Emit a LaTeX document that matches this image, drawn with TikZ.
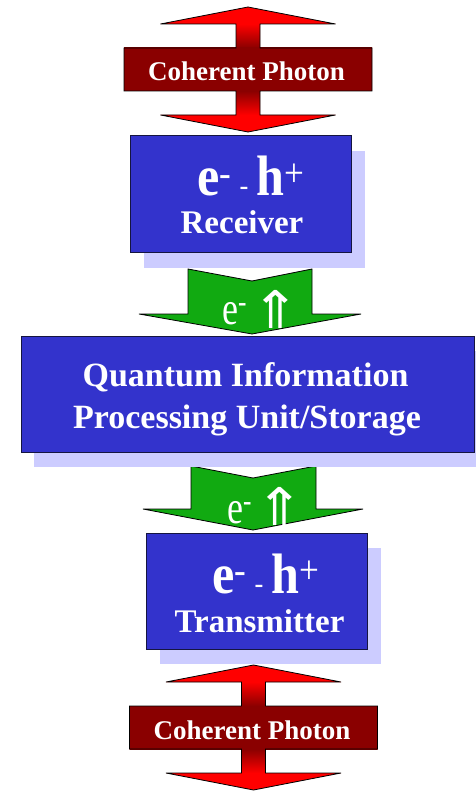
\documentclass[tikz,border=0pt]{standalone}
\usepackage{fontspec}
\setmainfont{Liberation Serif}
\newfontfamily\arrowfont{DejaVu Sans}
\usepackage{graphicx}
\usetikzlibrary{shadows}

\definecolor{boxblue}{HTML}{3333CC}
\definecolor{boxedge}{HTML}{151540}
\definecolor{shadowblue}{HTML}{CCCCFF}
\definecolor{arrowgreen}{HTML}{11AA11}
\definecolor{photonred}{HTML}{FF0000}
\definecolor{darkred}{HTML}{8A0000}
\definecolor{deepred}{HTML}{5E0000}

\newcommand\ehpair{\fontsize{57}{57}\selectfont\scalebox{0.88}[1]{e\textsuperscript{\mdseries-}\hspace{9pt}{\mdseries\fontsize{30}{30}\selectfont-}\hspace{9pt}h\textsuperscript{\mdseries+}}}
\newcommand\uparrowsign{{\fontsize{40}{40}\arrowfont\scalebox{1.45}[1.3]{⇑}}}

\begin{document}
\begin{tikzpicture}[x=1pt,y=-1pt,
  bluebox/.style={draw=boxedge, line width=1pt, fill=boxblue, inner sep=0pt, outer sep=0pt,
    drop shadow={shadow xshift=14pt, shadow yshift=-15pt, fill=shadowblue, opacity=1, draw=none}},
  photonbox/.style={inner sep=0pt, outer sep=0pt, top color=darkred, middle color=deepred, bottom color=darkred},
  outline/.style={draw=black, line width=0.8pt, line join=miter},
  greenarrow/.style={fill=arrowgreen, draw=black, line width=0.8pt},
  whitebold/.style={text=white, inner sep=0pt, font=\bfseries},
  greentext/.style={text=white, inner sep=0pt},
  photon arrow/.pic={
    % arrow heads
    \fill[photonred] (0,0) -- (87.5,17) -- (-87.5,17) -- cycle;
    \fill[photonred] (0,125) -- (87.5,108) -- (-87.5,108) -- cycle;
    % shafts fading into the label bar
    \shade[top color=photonred, bottom color=darkred] (-12,17) rectangle (12,41);
    \shade[top color=darkred, bottom color=photonred] (-12,84) rectangle (12,108);
    % label bar
    \node[photonbox, minimum width=248pt, minimum height=43pt] (-bar) at (0,62.5) {};
    \draw[outline] (0,0) -- (87.5,17) -- (12,17) -- (12,41) -- (124,41) -- (124,84)
      -- (12,84) -- (12,108) -- (87.5,108) -- (0,125) -- (-87.5,108) -- (-12,108)
      -- (-12,84) -- (-124,84) -- (-124,41) -- (-12,41) -- (-12,17) -- (-87.5,17) -- cycle;
    \node[whitebold, font=\bfseries\fontsize{27}{27}\selectfont, anchor=base] (-label) at (-1.5,74) {Coherent Photon};
  }]
\useasboundingbox (0,0) rectangle (475,791);

% photon arrows
\pic (inphoton) at (248,7) {photon arrow};

% electron transfer arrows
\draw[greenarrow] (188,269) -- (252,281) -- (312,269) -- (312,314) -- (361,314)
  -- (252,334) -- (139,314) -- (188,314) -- cycle;
\draw[greenarrow] (191,466) -- (253,478) -- (316,466) -- (316,509) -- (363,509)
  -- (253,530) -- (143,509) -- (191,509) -- cycle;

% blocks
\node[bluebox, minimum width=221pt, minimum height=117pt] (recv) at (240.5,194.5) {};
\node[bluebox, minimum width=453pt, minimum height=116pt,
  drop shadow={shadow xshift=13pt, shadow yshift=-15pt, fill=shadowblue, opacity=1, draw=none}] (qpu) at (247.5,394) {};
\node[bluebox, minimum width=221pt, minimum height=116pt] (trans) at (256.5,591) {};

\pic (outphoton) at (253.5,665) {photon arrow};

% receiver text
\node[whitebold, anchor=base] (recvpair) at (251,196) {\ehpair};
\node[whitebold, anchor=base, font=\bfseries\fontsize{33}{33}\selectfont] (recvlabel) at (242,234) {Receiver};

% processing unit text
\node[whitebold, anchor=base, font=\bfseries\fontsize{34}{34}\selectfont] (qpu1) at (245.5,386) {Quantum Information};
\node[whitebold, anchor=base, font=\bfseries\fontsize{34}{34}\selectfont] (qpu2) at (247,428) {Processing Unit/Storage};

% transmitter text
\node[whitebold, anchor=base] (transpair) at (266,593) {\ehpair};
\node[whitebold, anchor=base, font=\bfseries\fontsize{33}{33}\selectfont] (translabel) at (259.5,632) {Transmitter};

% electron labels on green arrows
\node[greentext, anchor=base west, font=\fontsize{36}{36}\selectfont] (e1) at (222,324) {\scalebox{1}[1.3]{e\textsuperscript{-}}};
\node[greentext, anchor=base] (up1) at (276,328) {\uparrowsign};
\node[greentext, anchor=base west, font=\fontsize{36}{36}\selectfont] (e2) at (227,523) {\scalebox{1}[1.3]{e\textsuperscript{-}}};
\node[greentext, anchor=base] (up2) at (279.5,525) {\uparrowsign};
\end{tikzpicture}
\end{document}
